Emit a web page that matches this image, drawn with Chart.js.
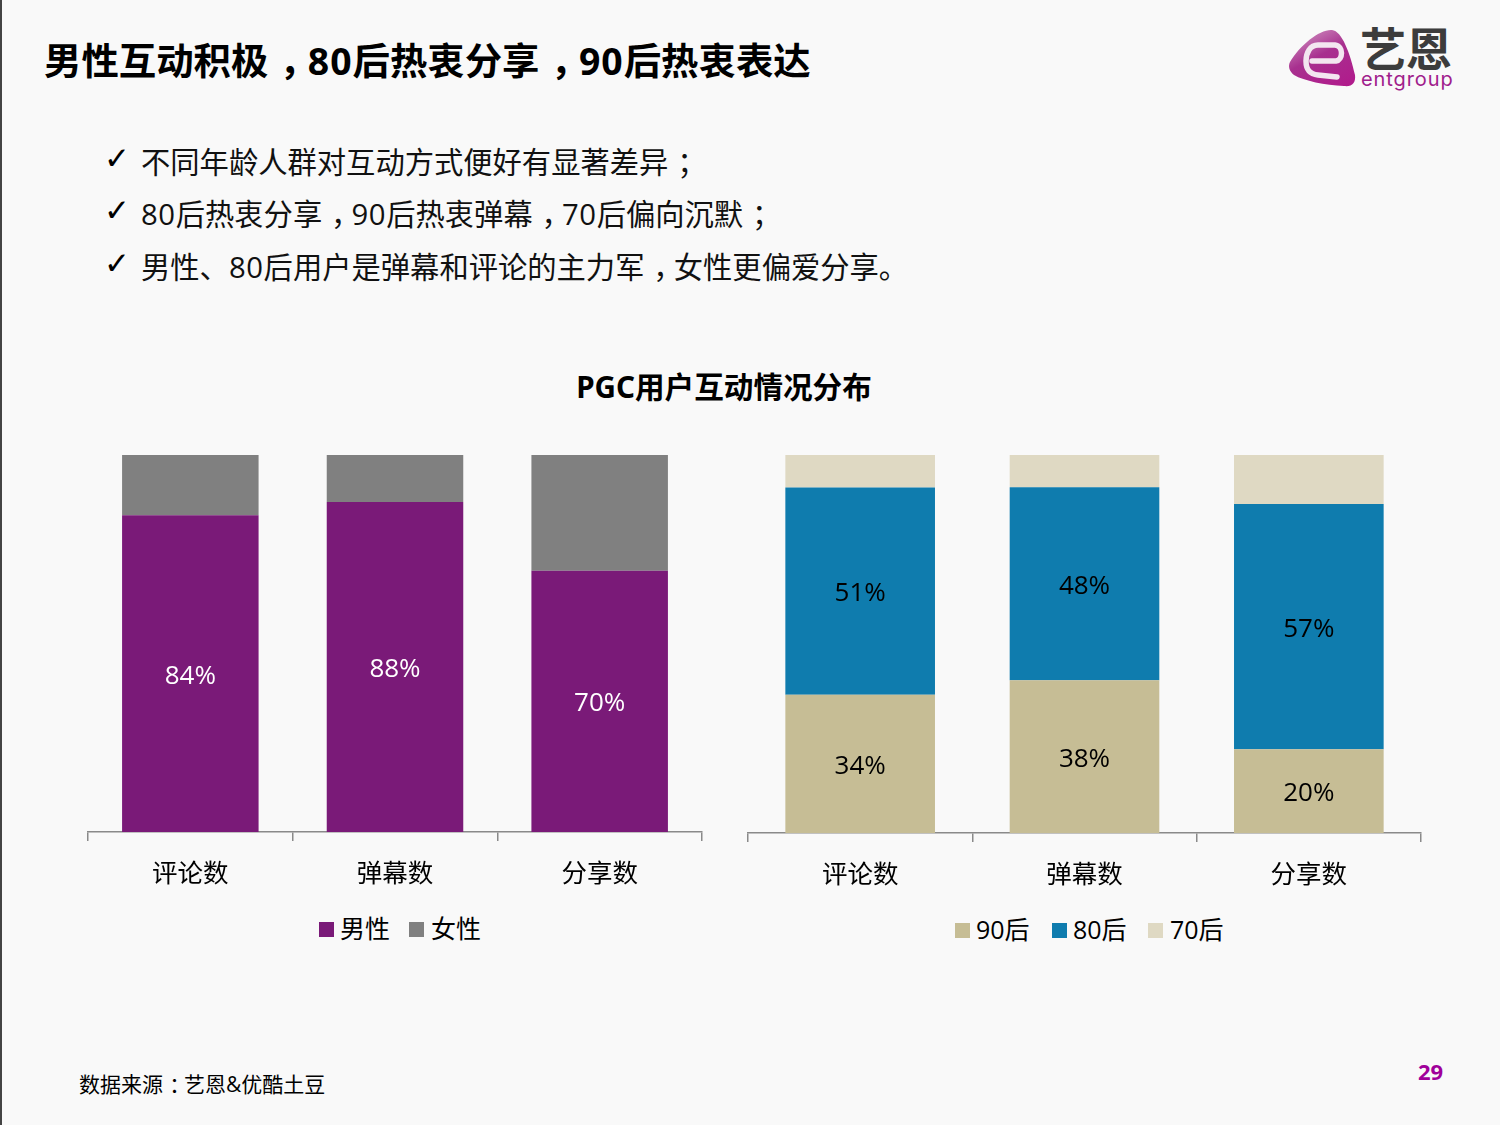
<!DOCTYPE html>
<html lang="zh"><head><meta charset="utf-8">
<script src="https://cdn.jsdelivr.net/npm/chart.js@4"></script>
<style>
html,body{margin:0;padding:0;background:#f9f9f9}
#page{position:relative;width:1500px;height:1125px;overflow:hidden;background:#f9f9f9;font-family:"Open Sans","Noto Sans CJK SC",sans-serif;color:#000}
#edge{position:absolute;left:0;top:0;width:1.5px;height:1125px;background:#444}
.t{position:absolute;white-space:nowrap;line-height:1}
.t b{font-weight:inherit;position:relative;left:.3em}
#head{left:44px;top:42px;font-size:37.4px;font-weight:700;font-family:"Noto Sans","Noto Sans CJK SC",sans-serif}
#head i{font-style:normal;letter-spacing:1px}
#head b{letter-spacing:2px}
.b{left:141px;font-size:29.3px;color:#111}
.b i{font-style:normal;letter-spacing:.6px}
.c{left:104px;font-size:31px;font-family:"DejaVu Sans",sans-serif}
#ctitle{left:424px;width:600px;top:372px;text-align:center;font-size:29.6px;font-weight:700;font-family:"Noto Sans","Noto Sans CJK SC",sans-serif}
#src{left:79px;top:1074px;font-size:21px}
#num{left:1418px;top:1060px;font-size:22px;font-weight:700;color:#a0009a;font-family:"Noto Sans",sans-serif}
canvas{position:absolute}
#wl{position:absolute;left:70px;top:440px;width:650px;height:450px}
#wr{position:absolute;left:730px;top:440px;width:710px;height:451px}
#logo{position:absolute;left:1280px;top:15px}
.lg{position:absolute;width:15px;height:15px}
.lt{position:absolute;font-size:25px;line-height:1;white-space:nowrap}
</style></head><body>
<div id="page">
<div id="edge"></div>
<div class="t" id="head">男性互动积极<b>，</b><i>80</i>后热衷分享<b>，</b><i>90</i>后热衷表达</div>
<div class="t c" style="top:143px">✓</div>
<div class="t b" style="top:148px">不同年龄人群对互动方式便好有显著差异<b>；</b></div>
<div class="t c" style="top:195px">✓</div>
<div class="t b" style="top:200px"><i>80</i>后热衷分享<b>，</b><i>90</i>后热衷弹幕<b>，</b><i>70</i>后偏向沉默<b>；</b></div>
<div class="t c" style="top:248px">✓</div>
<div class="t b" style="top:253px">男性、<i>80</i>后用户是弹幕和评论的主力军<b>，</b>女性更偏爱分享。</div>
<div class="t" id="ctitle">PGC用户互动情况分布</div>
<div id="wl"><canvas id="cl"></canvas></div>
<div id="wr"><canvas id="cr"></canvas></div>
<div id="legends"></div>
<div class="t" id="src">数据来源<b>：</b>艺恩&amp;优酷土豆</div>
<div class="t" id="num">29</div>
<svg id="logo" width="190" height="80" viewBox="0 0 190 80">
<defs><linearGradient id="g" x1="0.2" y1="0" x2="0.8" y2="1"><stop offset="0" stop-color="#cf8fc0"/><stop offset="0.45" stop-color="#a8308f"/><stop offset="1" stop-color="#b01c8c"/></linearGradient></defs>
<path d="M10 47 C20 30 40 14 52 15 C62 16 70 38 75 60 C76 68 72 72 64 71 C45 70 24 66 14 60 C9 56 8 51 10 47Z" fill="url(#g)"/>
<path d="M32 46 L56 46 C63 45 64 31 55 30 L38 30 C30 30 26 38 26 46 C26 55 30 59 38 60 L57 62" fill="none" stroke="#f3e6f0" stroke-width="5.5" stroke-linecap="round" stroke-linejoin="round"/>
<text x="80" y="51" font-size="46" font-weight="700" fill="#3c3c3c" font-family="Noto Sans CJK SC">艺恩</text>
<text x="81" y="71" font-size="20" letter-spacing="0.9" fill="#a0208c" font-family="Inter">entgroup</text>
</svg>
</div>
<script>
const categories = ["评论数","弹幕数","分享数"];
const maleValues = [84,88,70];
const femaleValues = [16,12.5,31];
const post90Values = [34,38,19.6];
const post80Values = [51,48,57.4];
const post70Values = [8,8,11.5];
const maleColor="#7a1a78", femaleColor="#808080", c90="#c6bd95", c80="#0f7cae", c70="#dfd9c3";
const FONT='"Open Sans","Noto Sans CJK SC",sans-serif';

Chart.defaults.animation=false;
const valueLabels={id:"valueLabels",afterDatasetsDraw(chart){
  const ctx=chart.ctx;
  chart.data.datasets.forEach((ds,i)=>{
    if(!ds.raw||!ds.showValue)return;
    chart.getDatasetMeta(i).data.forEach((el,j)=>{
      const y=(el.y+el.base)/2;
      ctx.save();ctx.fillStyle=ds.labelColor;ctx.font="26px "+FONT;
      ctx.textAlign="center";ctx.textBaseline="middle";
      ctx.fillText(Math.round(ds.raw[j])+"%",el.x,y+2.5);ctx.restore();
    });
  });
}};
function build(id,series,pad,legendPos,legendY){
  const totals=categories.map((_,j)=>series.reduce((s,d)=>s+d.values[j],0));
  new Chart(document.getElementById(id),{
    type:"bar",
    plugins:[valueLabels],
    data:{labels:categories,datasets:series.map(d=>({
      label:d.name,raw:d.values,showValue:d.show,labelColor:d.labelColor,
      backgroundColor:d.color,borderWidth:0,
      data:d.values.map((v,j)=>v/totals[j]*100),
      categoryPercentage:0.667,barPercentage:1
    }))},
    options:{responsive:true,maintainAspectRatio:false,
      layout:{padding:pad},
      plugins:{tooltip:{enabled:false},title:{display:false},legend:{display:false}},
      scales:{
        x:{stacked:true,offset:true,
          afterFit(s){s.height=58;},
          grid:{offset:true,drawOnChartArea:false,drawTicks:true,tickLength:9,color:"#8a8a8a",lineWidth:1.5},
          border:{color:"#8a8a8a",width:1.5},
          ticks:{color:"#000",font:{size:25.5,family:FONT},padding:18,maxRotation:0}},
        y:{stacked:true,display:false,min:0,max:100}
      }
    }
  });
  const host=document.getElementById("legends");
  series.forEach((d,i)=>{
    const b=document.createElement("div");b.className="lg";b.style.background=d.color;
    b.style.left=legendPos[i][0]+"px";b.style.top=legendY+"px";host.appendChild(b);
    const t=document.createElement("div");t.className="lt";t.textContent=d.name;
    t.style.left=legendPos[i][1]+"px";t.style.top=(legendY-6)+"px";host.appendChild(t);
  });
}
build("cl",[
 {name:"男性",values:maleValues,color:maleColor,show:true,labelColor:"#fff"},
 {name:"女性",values:femaleValues,color:femaleColor,show:false}
],{left:18,right:18,top:15,bottom:0},[[319,340],[409,431]],922);
build("cr",[
 {name:"90后",values:post90Values,color:c90,show:true,labelColor:"#000"},
 {name:"80后",values:post80Values,color:c80,show:true,labelColor:"#000"},
 {name:"70后",values:post70Values,color:c70,show:false}
],{left:18,right:19,top:15,bottom:0},[[955,976],[1052,1073],[1148,1170]],923);
</script>
</body></html>
